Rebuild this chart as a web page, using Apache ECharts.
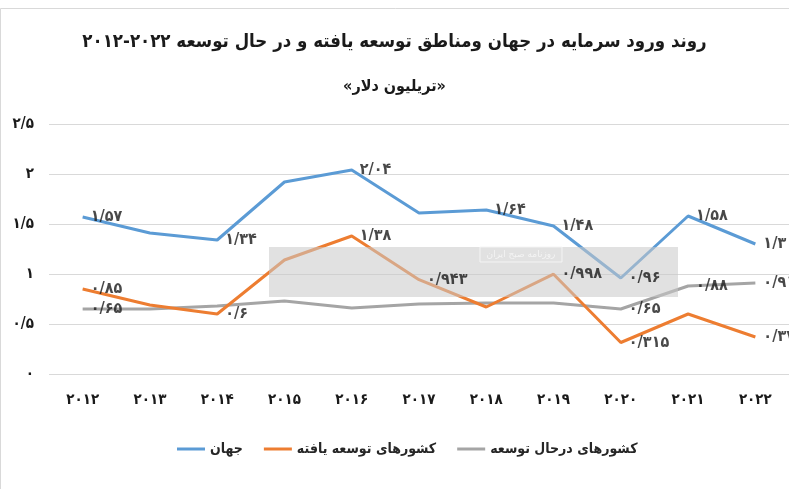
<!DOCTYPE html>
<html>
<head>
<meta charset="utf-8">
<script src="https://cdn.jsdelivr.net/npm/echarts@6/dist/echarts.min.js"></script>
<style>html,body{margin:0;padding:0;background:#fff}#c{width:789px;height:489px}</style>
</head>
<body>
<div id="c"></div>
<script>
const years = [2012, 2013, 2014, 2015, 2016, 2017, 2018, 2019, 2020, 2021, 2022];
const world = [1.57, 1.41, 1.34, 1.92, 2.04, 1.61, 1.64, 1.48, 0.96, 1.58, 1.3];
const developed = [0.85, 0.69, 0.6, 1.14, 1.38, 0.943, 0.67, 0.998, 0.315, 0.6, 0.37];
const developing = [0.65, 0.65, 0.68, 0.73, 0.66, 0.7, 0.71, 0.71, 0.65, 0.88, 0.91];
const worldLabeled = [2012, 2014, 2016, 2018, 2019, 2020, 2021, 2022];
const developedLabeled = [2012, 2014, 2016, 2017, 2019, 2020, 2022];
const developingLabeled = [2012, 2020, 2021, 2022];
const yTicks = [0, 0.5, 1, 1.5, 2, 2.5];
const seriesNames = ['جهان', 'کشورهای توسعه یافته', 'کشورهای درحال توسعه'];
const seriesColors = ['#5b9bd5', '#ed7d31', '#a5a5a5'];
const titleLine1 = 'روند ورود سرمایه در جهان ومناطق توسعه یافته و در حال توسعه ۲۰۲۲-۲۰۱۲';
const titleLine2 = '«تریلیون دلار»';

const FA = '۰۱۲۳۴۵۶۷۸۹';
function toFa(v) { return String(v).replace('.', '/').replace(/\d/g, d => FA[+d]); }
const FONT = '"DejaVu Sans Condensed", "DejaVu Sans", sans-serif';

function line(k, vals, z) {
  return { name: seriesNames[k], type: 'line', data: vals, symbol: 'none', color: seriesColors[k],
    itemStyle: { color: seriesColors[k] }, lineStyle: { width: 3, color: seriesColors[k] }, z: z };
}
function labels(vals, labeled) {
  const pts = [];
  years.forEach((y, i) => { if (labeled.indexOf(y) >= 0) pts.push([i, vals[i]]); });
  return {
    name: '_lbl', type: 'scatter', data: pts, symbol: 'circle', symbolSize: 0, silent: true, z: 20,
    itemStyle: { color: 'rgba(0,0,0,0)' },
    label: { show: true, position: 'right', distance: 8, color: '#1a1a1a', fontFamily: FONT, fontWeight: 'bold', fontSize: 16, formatter: p => toFa(p.value[1]) },
    labelLayout: { hideOverlap: false }
  };
}

const chart = echarts.init(document.getElementById('c'), null, { renderer: 'canvas' });
chart.setOption({
  animation: false,
  backgroundColor: '#fff',
  title: [
    { text: titleLine1, left: 'center', top: 28, textStyle: { fontFamily: FONT, fontWeight: 'bold', fontSize: 18.5, color: '#1a1a1a' } },
    { text: titleLine2, left: 'center', top: 74, textStyle: { fontFamily: FONT, fontWeight: 'bold', fontSize: 16, color: '#1a1a1a' } }
  ],
  legend: {
    data: seriesNames,
    left: 172, top: 437,
    icon: 'rect', itemWidth: 28, itemHeight: 3, itemGap: 21,
    textStyle: { fontFamily: FONT, fontSize: 14, fontWeight: 'bold', color: '#262626' }
  },
  grid: { left: 49, top: 124, width: 742.5, height: 250, containLabel: false },
  xAxis: {
    type: 'category', data: years, boundaryGap: true,
    axisLine: { show: false }, axisTick: { show: false },
    axisLabel: { margin: 19, fontFamily: FONT, fontWeight: 'bold', fontSize: 15, color: '#1a1a1a', formatter: v => toFa(v) }
  },
  yAxis: {
    type: 'value', min: 0, max: 2.5, interval: 0.5,
    axisLine: { show: false }, axisTick: { show: false },
    splitLine: { lineStyle: { color: '#d9d9d9', width: 1 } },
    axisLabel: { margin: 15, fontFamily: FONT, fontWeight: 'bold', fontSize: 15, color: '#1a1a1a', formatter: v => toFa(v) }
  },
  series: [
    line(2, developing, 1),
    line(1, developed, 2),
    line(0, world, 3),
    labels(world, worldLabeled),
    labels(developed, developedLabeled),
    labels(developing, developingLabeled)
  ],
  graphic: [
    { type: 'rect', shape: { x: 0.5, y: 8.5, width: 800, height: 500 }, style: { fill: 'none', stroke: '#d9d9d9', lineWidth: 1 }, z: 0, silent: true },
    { type: 'rect', shape: { x: 269, y: 247, width: 409, height: 50 }, style: { fill: 'rgba(200,200,200,0.55)' }, z: 10, silent: true },
    { type: 'rect', shape: { x: 480, y: 247, width: 82, height: 15 }, style: { fill: 'none', stroke: '#f4f4f4', lineWidth: 1 }, z: 11, silent: true },
    { type: 'text', x: 521, y: 255, style: { text: 'روزنامه صبح ایران', fill: '#f4f4f4', font: '9px "DejaVu Sans", sans-serif', align: 'center', verticalAlign: 'middle' }, z: 11, silent: true }
  ]
});
</script>
</body>
</html>
